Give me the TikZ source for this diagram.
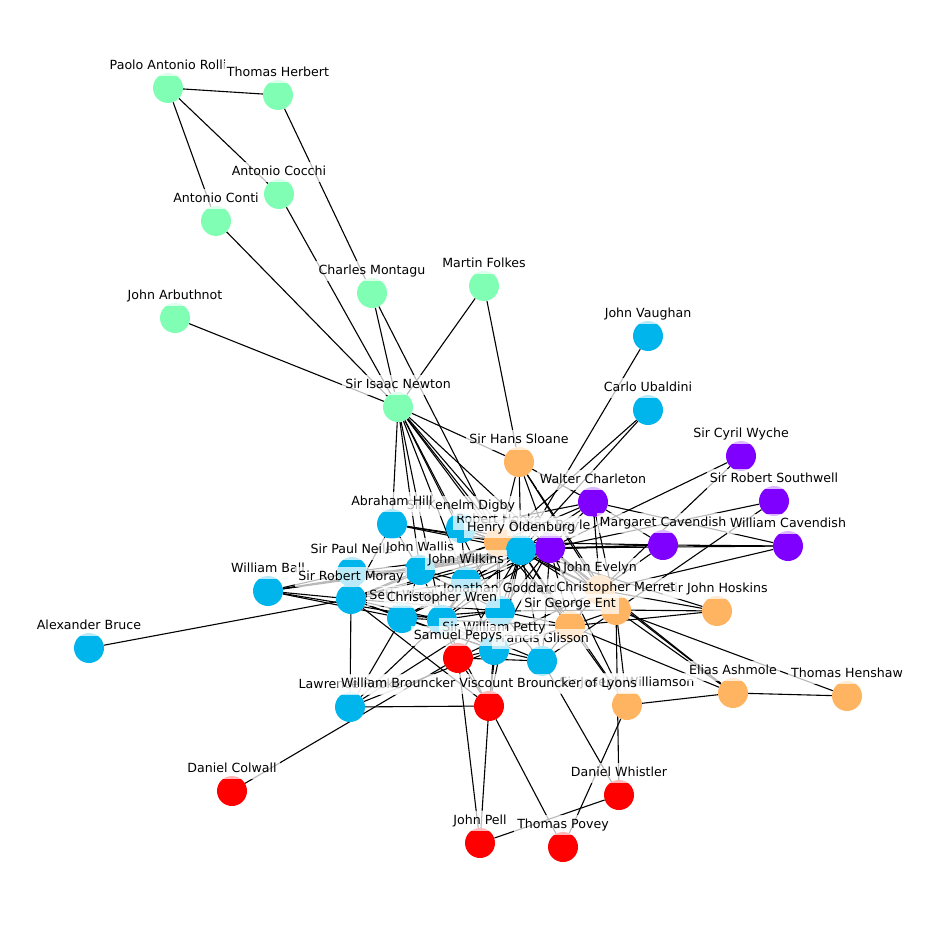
\documentclass[tikz,border=0pt]{standalone}
\usepackage{fontspec}
\setmainfont{DejaVu Sans}
\pgfdeclarelayer{bg}
\pgfsetlayers{bg,main}
\definecolor{cgreen}{RGB}{128,255,180}
\definecolor{cblue}{RGB}{0,180,236}
\definecolor{cpurple}{RGB}{128,0,255}
\definecolor{corange}{RGB}{255,180,98}
\definecolor{cred}{RGB}{255,0,0}
\tikzset{
  dot/.style={circle,inner sep=0pt,minimum size=30pt,draw=none},
  lab/.style={fill=white,fill opacity=0.72,text opacity=1,inner xsep=3pt,inner ysep=3.5pt,
    font=\fontsize{12.6}{15}\selectfont,text height=9.6pt,text depth=3pt},
  edge/.style={draw=black,line width=1.1pt}
}
\begin{document}
\begin{tikzpicture}[x=1pt,y=-1pt]
\useasboundingbox (0,0) rectangle (936,936);
% nodes
\node[dot,fill=cgreen] (ROL) at (168,88) {};
\node[dot,fill=cgreen] (HER) at (278,95) {};
\node[dot,fill=cgreen] (COC) at (279,194) {};
\node[dot,fill=cgreen] (CON) at (216,221) {};
\node[dot,fill=cgreen] (MON) at (372,293) {};
\node[dot,fill=cgreen] (FOL) at (484,286) {};
\node[dot,fill=cgreen] (ARB) at (175,318) {};
\node[dot,fill=cgreen] (NEW) at (398,407) {};
\node[dot,fill=cblue] (JVA) at (648,336) {};
\node[dot,fill=cblue] (CUB) at (648,410) {};
\node[dot,fill=corange] (SLO) at (519,462) {};
\node[dot,fill=cpurple] (CWY) at (741,456) {};
\node[dot,fill=cpurple] (SRS) at (774,501) {};
\node[dot,fill=cpurple] (WCH) at (593,502) {};
\node[dot,fill=cpurple] (MCA) at (663,545) {};
\node[dot,fill=cpurple] (WCA) at (788,546) {};
\node[dot,fill=cblue] (ABR) at (89,648) {};
\node[dot,fill=cblue] (WBA) at (268,591) {};
\node[dot,fill=cblue] (PNE) at (352,572) {};
\node[dot,fill=cblue] (RMO) at (351,599) {};
\node[dot,fill=cblue] (SWA) at (402,618) {};
\node[dot,fill=cblue] (JGO) at (500,611) {};
\node[dot,fill=corange] (HOO) at (499,542) {};
\node[dot,fill=cpurple] (BOY) at (550,548) {};
\node[dot,fill=cblue] (KDI) at (461,528) {};
\node[dot,fill=cblue] (AHI) at (392,524) {};
\node[dot,fill=cblue] (WAL) at (420,570) {};
\node[dot,fill=cblue] (WIL) at (466,582) {};
\node[dot,fill=cblue] (CWR) at (442,620) {};
\node[dot,fill=cblue] (OLD) at (521,550) {};
\node[dot,fill=corange] (EVE) at (600,590) {};
\node[dot,fill=corange] (HOS) at (717,611) {};
\node[dot,fill=corange] (MER) at (616,610) {};
\node[dot,fill=corange] (GEN) at (570,626) {};
\node[dot,fill=cblue] (GLI) at (542,661) {};
\node[dot,fill=cblue] (PET) at (494,650) {};
\node[dot,fill=cred] (PEP) at (458,658) {};
\node[dot,fill=cblue] (ROO) at (350,707) {};
\node[dot,fill=corange] (WIM) at (627,705) {};
\node[dot,fill=cred] (BRO) at (489,706) {};
\node[dot,fill=corange] (ASH) at (733,693) {};
\node[dot,fill=corange] (HEN) at (847,696) {};
\node[dot,fill=cred] (COL) at (232,791) {};
\node[dot,fill=cred] (WHI) at (619,795) {};
\node[dot,fill=cred] (PEL) at (480,843) {};
\node[dot,fill=cred] (POV) at (563,847) {};
% edges
\begin{pgfonlayer}{bg}
\foreach \a/\b in {ROL/HER,ROL/COC,ROL/CON,HER/MON,COC/NEW,CON/NEW,MON/NEW,MON/HOO,FOL/NEW,FOL/SLO,ARB/NEW,
NEW/SLO,NEW/AHI,NEW/WAL,NEW/KDI,NEW/HOO,NEW/OLD,NEW/BOY,NEW/WIL,NEW/CWR,NEW/JGO,NEW/GEN,
SLO/OLD,SLO/HOO,SLO/BOY,SLO/EVE,SLO/MER,SLO/WCH,
JVA/OLD,CUB/OLD,CUB/HOO,CWY/BOY,CWY/EVE,SRS/BOY,SRS/MER,
WCA/MCA,WCA/BOY,WCA/WCH,WCA/EVE,
MCA/BOY,MCA/OLD,MCA/WCH,MCA/EVE,MCA/HOO,
WCH/BOY,WCH/OLD,WCH/HOO,WCH/EVE,WCH/MER,WCH/KDI,
ABR/RMO,WBA/RMO,WBA/OLD,WBA/WAL,WBA/CWR,WBA/PNE,WBA/SWA,WBA/BOY,
AHI/OLD,AHI/BOY,AHI/HOO,AHI/WAL,AHI/RMO,
KDI/OLD,KDI/BOY,KDI/HOO,KDI/WIL,
HOO/OLD,HOO/BOY,HOO/WAL,HOO/WIL,HOO/CWR,HOO/JGO,HOO/PET,HOO/EVE,HOO/GEN,HOO/RMO,
OLD/BOY,OLD/WAL,OLD/WIL,OLD/CWR,OLD/JGO,OLD/PET,OLD/EVE,OLD/MER,OLD/GEN,OLD/GLI,OLD/PEP,OLD/BRO,OLD/RMO,OLD/PNE,OLD/SWA,OLD/WIM,OLD/HOS,
BOY/WAL,BOY/WIL,BOY/CWR,BOY/JGO,BOY/PET,BOY/EVE,BOY/MER,BOY/GEN,BOY/GLI,BOY/RMO,BOY/SWA,BOY/ASH,BOY/WIM,
WAL/WIL,WAL/CWR,WAL/RMO,WAL/SWA,WAL/JGO,WAL/PNE,
WIL/CWR,WIL/JGO,WIL/SWA,WIL/PET,WIL/RMO,
RMO/CWR,RMO/SWA,RMO/PNE,RMO/JGO,RMO/PET,RMO/ROO,RMO/BRO,
SWA/CWR,SWA/JGO,SWA/ROO,SWA/PET,
CWR/JGO,CWR/PET,CWR/ROO,CWR/BRO,CWR/PEP,CWR/GEN,CWR/GLI,
JGO/PET,JGO/GEN,JGO/GLI,JGO/MER,JGO/ROO,JGO/BRO,
EVE/MER,EVE/HOS,EVE/ASH,EVE/PEP,EVE/GEN,
MER/GEN,MER/HOS,MER/ASH,MER/HEN,MER/WHI,MER/WIM,MER/GLI,
GEN/HOS,GEN/ASH,GEN/GLI,GEN/PET,GEN/WIM,
PET/PEP,PET/BRO,PET/GLI,PET/ROO,
PEP/BRO,PEP/PEL,PEP/COL,PEP/GLI,
GLI/WHI,BRO/PEL,BRO/POV,BRO/ROO,WIM/ASH,WIM/POV,ASH/HEN,PEL/WHI}
  {\draw[edge] (\a) -- (\b);}
\end{pgfonlayer}
% labels
\foreach \id/\t in {ROL/Paolo Antonio Rolli,HER/Thomas Herbert,COC/Antonio Cocchi,CON/Antonio Conti,
MON/Charles Montagu,FOL/Martin Folkes,ARB/John Arbuthnot,NEW/Sir Isaac Newton,JVA/John Vaughan,
CUB/Carlo Ubaldini,SLO/Sir Hans Sloane,CWY/Sir Cyril Wyche,SRS/Sir Robert Southwell,WCH/Walter Charleton,
MCA/Margaret Cavendish,WCA/William Cavendish,ABR/Alexander Bruce,WBA/William Ball,PNE/Sir Paul Neile,
RMO/Sir Robert Moray,SWA/Seth Ward,JGO/Jonathan Goddard,HOO/Robert Hooke,BOY/Robert Boyle,
KDI/Sir Kenelm Digby,AHI/Abraham Hill,WAL/John Wallis,WIL/John Wilkins,CWR/Christopher Wren,
OLD/Henry Oldenburg,EVE/John Evelyn,HOS/Sir John Hoskins,MER/Christopher Merret,GEN/Sir George Ent,
GLI/Francis Glisson,PET/Sir William Petty,PEP/Samuel Pepys,ROO/Lawrence Rooke,WIM/Sir Joseph Williamson,
BRO/William Brouncker Viscount Brouncker of Lyons,ASH/Elias Ashmole,HEN/Thomas Henshaw,COL/Daniel Colwall,
WHI/Daniel Whistler,PEL/John Pell,POV/Thomas Povey}
  {\node[lab] (\id l) at ([yshift=22pt]\id) {\t};}
\end{tikzpicture}
\end{document}
